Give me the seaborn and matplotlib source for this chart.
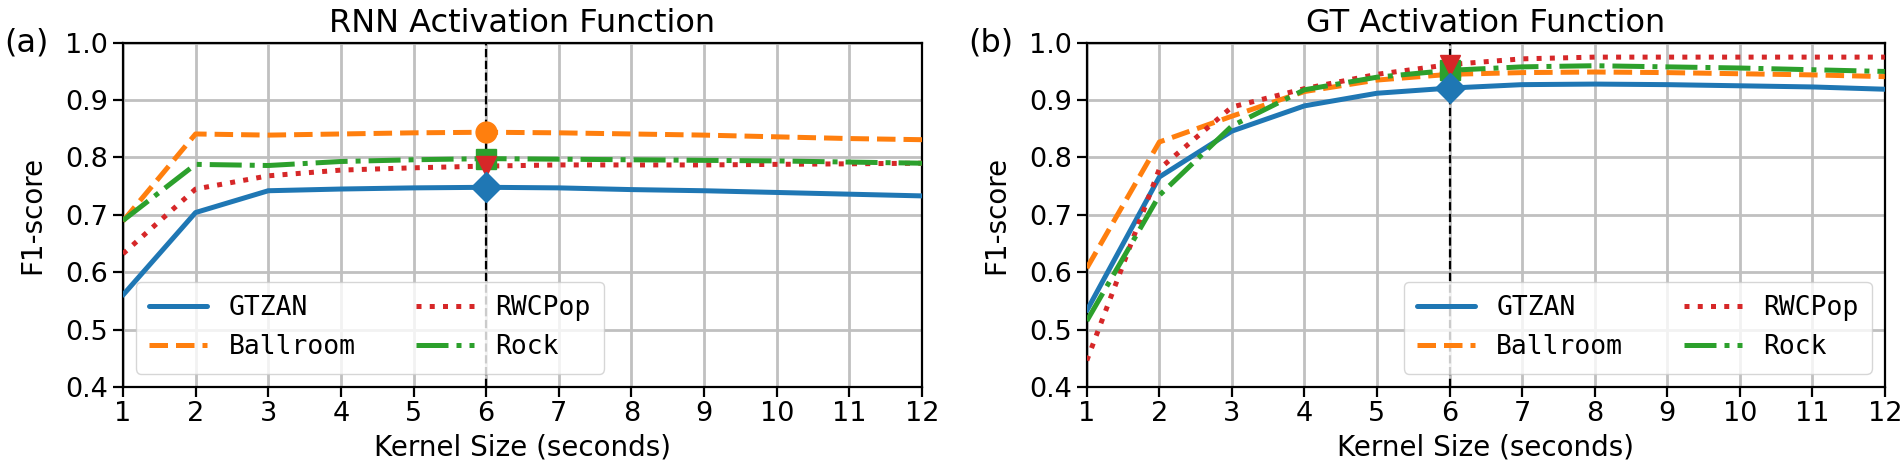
import matplotlib
matplotlib.use("Agg")
import matplotlib.pyplot as plt
import seaborn as sns
import pandas as pd

# Kernel sizes (seconds) and F1-scores
kernel_sizes = [1, 2, 3, 4, 5, 6, 7, 8, 9, 10, 11, 12]
datasets = ["GTZAN", "Ballroom", "RWCPop", "Rock"]

rnn_gtzan = [0.560, 0.704, 0.742, 0.745, 0.747, 0.748, 0.747, 0.744, 0.742, 0.739, 0.736, 0.733]
rnn_ballroom = [0.689, 0.841, 0.839, 0.841, 0.843, 0.844, 0.843, 0.841, 0.839, 0.836, 0.833, 0.831]
rnn_rwcpop = [0.632, 0.745, 0.768, 0.778, 0.782, 0.785, 0.787, 0.787, 0.787, 0.788, 0.789, 0.790]
rnn_rock = [0.690, 0.788, 0.786, 0.793, 0.796, 0.798, 0.797, 0.796, 0.795, 0.794, 0.792, 0.790]

gt_gtzan = [0.533, 0.766, 0.846, 0.890, 0.912, 0.921, 0.927, 0.928, 0.927, 0.925, 0.923, 0.919]
gt_ballroom = [0.607, 0.827, 0.872, 0.915, 0.935, 0.945, 0.948, 0.949, 0.948, 0.946, 0.944, 0.941]
gt_rwcpop = [0.446, 0.780, 0.888, 0.920, 0.945, 0.962, 0.972, 0.975, 0.975, 0.975, 0.975, 0.975]
gt_rock = [0.515, 0.734, 0.855, 0.918, 0.940, 0.952, 0.958, 0.960, 0.958, 0.956, 0.953, 0.950]

best_k = 6

colors = {"GTZAN": "#1f77b4", "Ballroom": "#ff7f0e", "RWCPop": "#d62728", "Rock": "#2ca02c"}
dashes = {"GTZAN": "", "Ballroom": (3.7, 1.6), "RWCPop": (1, 1.65), "Rock": (6.4, 1.6, 1, 1.6)}
markers = {"GTZAN": "D", "Ballroom": "o", "RWCPop": "v", "Rock": "s"}
marker_order = ["Ballroom", "Rock", "RWCPop", "GTZAN"]


def to_long(series):
    rows = []
    for name, vals in zip(datasets, series):
        for k, v in zip(kernel_sizes, vals):
            rows.append({"k": k, "f1": v, "dataset": name})
    return pd.DataFrame(rows)


sns.set_theme(style="ticks", rc={"text.color": "black", "axes.labelcolor": "black",
                                 "xtick.color": "black", "ytick.color": "black"})
plt.rcParams["font.family"] = ["DejaVu Sans"]

fig = plt.figure(figsize=(19, 4.65), dpi=100)
ax_a = fig.add_axes([0.0647, 0.168, 0.4206, 0.740])
ax_b = fig.add_axes([0.5720, 0.168, 0.4200, 0.740])

panels = [
    (ax_a, [rnn_gtzan, rnn_ballroom, rnn_rwcpop, rnn_rock], "RNN Activation Function", "(a)", "lower left"),
    (ax_b, [gt_gtzan, gt_ballroom, gt_rwcpop, gt_rock], "GT Activation Function", "(b)", "lower right"),
]

for ax, series, title, tag, loc in panels:
    df = to_long(series)
    ax.grid(True, color="#c0c0c0", linewidth=2.0, zorder=0)
    ax.axvline(best_k, color="black", linestyle="--", linewidth=1.6, zorder=1)
    sns.lineplot(data=df, x="k", y="f1", hue="dataset", style="dataset",
                 palette=colors, dashes=dashes, linewidth=3.6, ax=ax, zorder=3)
    # highlight the chosen kernel size
    for name in marker_order:
        vals = series[datasets.index(name)]
        ax.plot([best_k], [vals[kernel_sizes.index(best_k)]], marker=markers[name],
                color=colors[name], markersize=15, linestyle="none", zorder=4)

    ax.set_xlim(1, 12)
    ax.set_ylim(0.4, 1.0)
    ax.set_xticks(kernel_sizes)
    ax.set_yticks([0.4, 0.5, 0.6, 0.7, 0.8, 0.9, 1.0])
    ax.set_yticklabels([f"{v:.1f}" for v in [0.4, 0.5, 0.6, 0.7, 0.8, 0.9, 1.0]])
    ax.tick_params(labelsize=19.5, length=7, width=1.6, color="black", labelcolor="black")
    for s in ax.spines.values():
        s.set_color("black")
        s.set_linewidth(1.6)
    ax.set_xlabel("Kernel Size (seconds)", fontsize=20, labelpad=4)
    ax.set_ylabel("F1-score", fontsize=20, labelpad=14)
    ax.set_title(title, fontsize=23, pad=8)
    ax.text(-0.148, 1.0, tag, transform=ax.transAxes, fontsize=23, va="center", ha="left")

    leg = ax.legend(loc=loc, ncol=2, handlelength=2.2, columnspacing=2.3,
                    prop={"family": "DejaVu Sans Mono", "size": 19}, fancybox=True,
                    framealpha=0.8, borderpad=0.5, labelspacing=0.5, handletextpad=0.8)
    for line in leg.get_lines():
        line.set_linewidth(3.6)

plt.savefig("out.png", dpi=100)
plt.close()
